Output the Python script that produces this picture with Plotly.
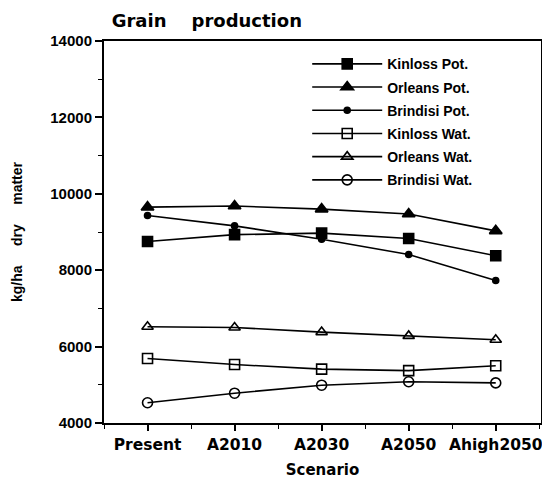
import plotly.graph_objects as go

categories = ["Present", "A2010", "A2030", "A2050", "Ahigh2050"]
kinloss_pot = [8750, 8930, 8970, 8830, 8380]
orleans_pot = [9650, 9680, 9600, 9470, 9030]
brindisi_pot = [9430, 9160, 8810, 8410, 7730]
kinloss_wat = [5690, 5530, 5410, 5370, 5500]
orleans_wat = [6520, 6500, 6380, 6280, 6180]
brindisi_wat = [4530, 4780, 4990, 5080, 5050]

series = [
    ("Kinloss Pot.", kinloss_pot, "square", 10),
    ("Orleans Pot.", orleans_pot, "triangle-up", 11),
    ("Brindisi Pot.", brindisi_pot, "circle", 6),
    ("Kinloss Wat.", kinloss_wat, "square-open", 10),
    ("Orleans Wat.", orleans_wat, "triangle-up-open", 10),
    ("Brindisi Wat.", brindisi_wat, "circle-open", 10),
]

xpos = list(range(len(categories)))
fig = go.Figure()
for i, (name, vals, sym, size) in enumerate(series):
    fig.add_trace(go.Scatter(
        x=xpos, y=vals, name=name, mode="lines+markers",
        legendgroup="g%d" % i,
        line=dict(color="black", width=1.6),
        marker=dict(symbol=sym, size=size, color="black",
                    line=dict(color="black", width=1.6)),
    ))

arial = "Liberation Sans, Arial, sans-serif"
wide = "DejaVu Sans, sans-serif"
# the page body has an 8px default margin, so the figure is 8px smaller
# on each axis and everything is placed 8px up/left of its page position
fig.update_layout(
    width=542, height=471,
    paper_bgcolor="white", plot_bgcolor="white",
    margin=dict(l=96, r=9, t=33, b=56),
    font=dict(family=arial, color="black", size=12),
    title=dict(text="<b>Grain    production</b>", xref="container", x=0.1913,
               xanchor="left", yref="container", y=1 - 12.5 / 471, yanchor="middle",
               font=dict(size=18, family=wide)),
    showlegend=True,
    legend=dict(x=0.465, y=0.981, xanchor="left", yanchor="top",
                bgcolor="rgba(0,0,0,0)", font=dict(size=14, family=arial, weight="bold"),
                itemwidth=70, tracegroupgap=2, traceorder="grouped"),
    xaxis=dict(
        range=[-0.5, 4.52], tickmode="array", tickvals=xpos,
        ticktext=["<b>%s</b>" % c for c in categories],
        ticks="outside", ticklen=6, tickcolor="black", tickwidth=1.5,
        minor=dict(dtick=0.5, tick0=0, ticks="outside", ticklen=4, tickcolor="black", tickwidth=1.2),
        showgrid=False, zeroline=False, automargin=False,
        showline=True, linecolor="black", linewidth=2, mirror=True,
        tickfont=dict(size=15.5, family=wide),
        title=dict(text="<b>Scenario</b>", font=dict(size=15, family=wide), standoff=15),
    ),
    yaxis=dict(
        range=[4000, 14000], tickmode="linear", tick0=4000, dtick=2000,
        tickformat="d",
        ticks="outside", ticklen=7, tickcolor="black", tickwidth=1.5,
        minor=dict(dtick=1000, ticks="outside", ticklen=4, tickcolor="black", tickwidth=1.2),
        showgrid=False, zeroline=False, automargin=False,
        showline=True, linecolor="black", linewidth=2, mirror=True,
        tickfont=dict(size=15, family=arial, weight="bold"),
        title=dict(text="<b>kg/ha     dry     matter</b>", font=dict(size=14, family=arial), standoff=24),
    ),
)

fig.write_html("out.html")
